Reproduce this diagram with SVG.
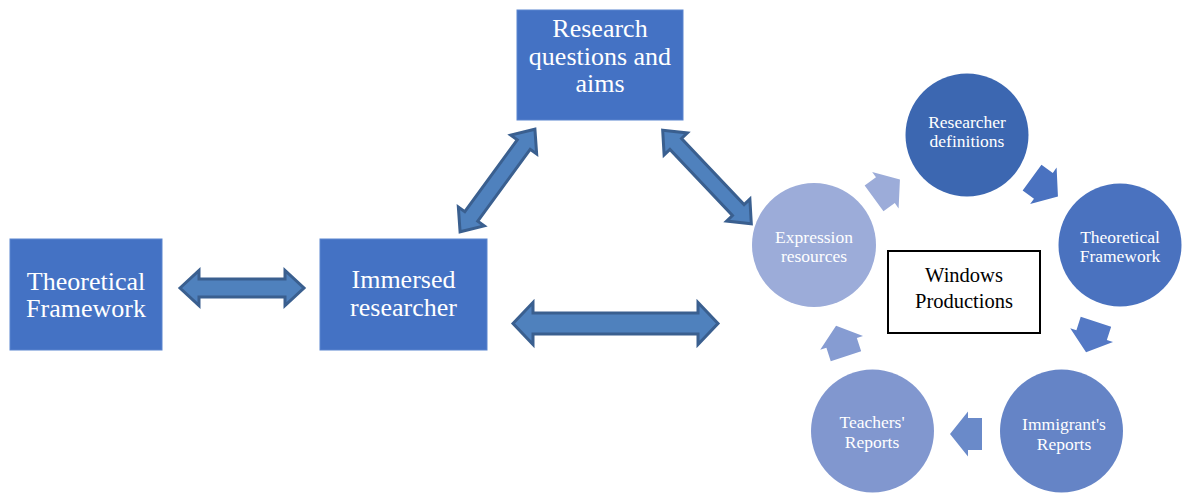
<svg xmlns="http://www.w3.org/2000/svg" width="1183" height="495" viewBox="0 0 1183 495">
<style>
.box{fill:#4472C4;stroke:#5A85CF;stroke-width:1}
.bt{font-family:"Liberation Serif","Times New Roman",serif;font-size:26px;fill:#fff;text-anchor:middle}
.ct{font-family:"Liberation Serif","Times New Roman",serif;font-size:17.5px;fill:#fff;text-anchor:middle}
.wt{font-family:"Liberation Serif","Times New Roman",serif;font-size:20.5px;fill:#000;text-anchor:middle}
.dbl{fill:#4F81BD;stroke:#3A5F8F;stroke-width:3;stroke-linejoin:miter}
</style>
<defs>
<path id="cyc" d="M -16,-16 L -2,-16 L -2,-22.5 L 16,0 L -2,22.5 L -2,16 L -16,16 Z"/>
</defs>
<rect width="1183" height="495" fill="#fff"/>
<g id="connectors">
<path class="dbl" transform="translate(242,288)" d="M -62,0 L -43,-17.5 L -43,-9 L 43,-9 L 43,-17.5 L 62,0 L 43,17.5 L 43,9 L -43,9 L -43,17.5 Z"/>
<path class="dbl" transform="translate(615.5,323.5)" d="M -102.5,0 L -82.5,-21 L -82.5,-10.5 L 82.5,-10.5 L 82.5,-21 L 102.5,0 L 82.5,21 L 82.5,10.5 L -82.5,10.5 L -82.5,21 Z"/>
<path class="dbl" transform="translate(497.5,180.5) rotate(-53.9)" d="M -63.5,0 L -44.5,-16 L -44.5,-8 L 44.5,-8 L 44.5,-16 L 63.5,0 L 44.5,16 L 44.5,8 L -44.5,8 L -44.5,16 Z"/>
<path class="dbl" transform="translate(707,177) rotate(46.6)" d="M -64.5,0 L -45.5,-16 L -45.5,-8 L 45.5,-8 L 45.5,-16 L 64.5,0 L 45.5,16 L 45.5,8 L -45.5,8 L -45.5,16 Z"/>
<use href="#cyc" fill="#9CACD9" transform="translate(887,189) rotate(-36)"/>
<use href="#cyc" fill="#4A72C0" transform="translate(1045,187) rotate(36)"/>
<use href="#cyc" fill="#5479C5" transform="translate(1091,337) rotate(108)"/>
<use href="#cyc" fill="#6A8AC9" transform="translate(966,434) rotate(180)"/>
<use href="#cyc" fill="#869CD2" transform="translate(841,341) rotate(252)"/>
</g>
<g id="theoretical-framework-box">
<rect class="box" x="10" y="239" width="152" height="111"/>
<text class="bt" x="86" y="290">Theoretical</text>
<text class="bt" x="86" y="317">Framework</text>
</g>
<g id="immersed-researcher">
<rect class="box" x="320" y="239" width="167" height="111"/>
<text class="bt" x="403.5" y="288">Immersed</text>
<text class="bt" x="403.5" y="316">researcher</text>
</g>
<g id="research-questions">
<rect class="box" x="517" y="10" width="166" height="110"/>
<text class="bt" x="600" y="37">Research</text>
<text class="bt" x="600" y="65">questions and</text>
<text class="bt" x="600" y="92">aims</text>
</g>
<g id="researcher-definitions">
<circle cx="967" cy="135" r="61.5" fill="#3C67B1"/>
<text class="ct" x="967" y="128">Researcher</text>
<text class="ct" x="967" y="147">definitions</text>
</g>
<g id="theoretical-framework-circle">
<circle cx="1120" cy="245" r="61.5" fill="#4A72BF"/>
<text class="ct" x="1120" y="243">Theoretical</text>
<text class="ct" x="1120" y="262">Framework</text>
</g>
<g id="immigrants-reports">
<circle cx="1061.5" cy="431" r="61.5" fill="#6584C6"/>
<text class="ct" x="1064" y="430">Immigrant's</text>
<text class="ct" x="1064" y="450">Reports</text>
</g>
<g id="teachers-reports">
<circle cx="872.5" cy="431" r="61.5" fill="#8197CF"/>
<text class="ct" x="872" y="428">Teachers'</text>
<text class="ct" x="872" y="448">Reports</text>
</g>
<g id="expression-resources">
<circle cx="814" cy="245" r="62" fill="#9CACD9"/>
<text class="ct" x="814" y="243">Expression</text>
<text class="ct" x="814" y="262">resources</text>
</g>
<g id="windows-productions">
<rect x="888" y="251" width="152" height="82" fill="#fff" stroke="#000" stroke-width="2"/>
<text class="wt" x="964" y="282">Windows</text>
<text class="wt" x="964" y="308">Productions</text>
</g>
</svg>
